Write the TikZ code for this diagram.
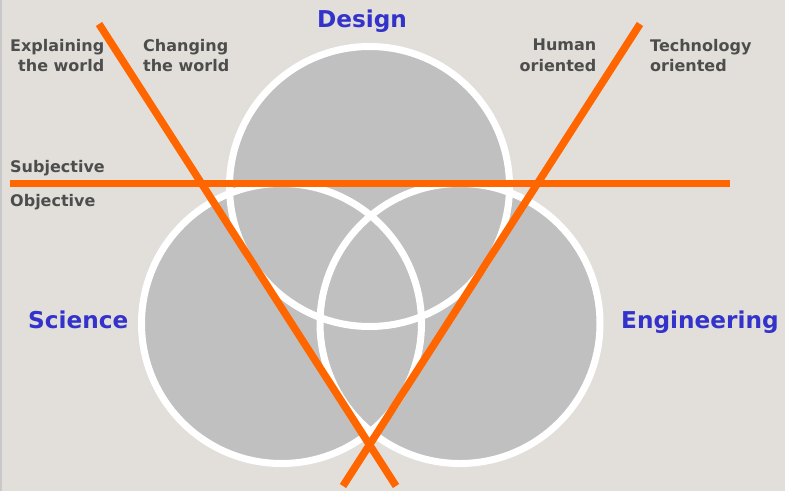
\documentclass[tikz,border=0pt]{standalone}
\usepackage{fontspec}
\setmainfont{DejaVu Sans}
\definecolor{bg}{HTML}{E2DFDA}
\definecolor{edge}{HTML}{C9C9C9}
\definecolor{disc}{HTML}{C0C0C0}
\definecolor{orng}{HTML}{FF6600}
\definecolor{lblgray}{HTML}{4D4D4D}
\definecolor{lblblue}{HTML}{3333CC}
\tikzset{
  disk/.style={fill=disc},
  ring/.style={draw=white, line width=7pt},
  bar/.style={draw=orng, line width=7.5pt},
  lbl/.style={inner sep=0pt, text=lblgray, font=\bfseries\fontsize{16}{20.5}\selectfont},
  head/.style={inner sep=0pt, text=lblblue, font=\bfseries\fontsize{23.2}{27}\selectfont},
}
\begin{document}
\begin{tikzpicture}[x=1pt, y=-1pt]
\fill[bg] (0,0) rectangle (785,491);
\fill[edge] (0,0) rectangle (2,491);
\useasboundingbox (0,0) rectangle (785,491);
% centres
\coordinate (cd) at (369.5,186.5);
\coordinate (cs) at (281.5,323.5);
\coordinate (ce) at (460,323.5);
% fills
\fill[disk] (cd) circle[radius=140];
\fill[disk] (cs) circle[radius=140];
\fill[disk] (ce) circle[radius=140];
% outlines
\draw[ring] (cd) circle[radius=140];
\draw[ring] (cs) circle[radius=140];
\draw[ring] (ce) circle[radius=140];
% orange lines
\coordinate (h1) at (10,183.5);
\coordinate (h2) at (730,183.5);
\coordinate (a1) at (99,24);
\coordinate (a2) at (396,486);
\coordinate (b1) at (640,24);
\coordinate (b2) at (343,486);
\draw[bar] (h1) -- (h2);
\draw[bar] (a1) -- (a2);
\draw[bar] (b1) -- (b2);
% labels
\node[head, anchor=base] (design) at (362,27.5) {Design};
\node[head, anchor=base west] (science) at (28,328) {Science};
\node[head, anchor=base west] (engineering) at (621,328) {Engineering};
\node[lbl, align=right, anchor=north east] (explaining) at (104.5,39) {Explaining\\the world};
\node[lbl, align=left, anchor=north west] (changing) at (143,39) {Changing\\the world};
\node[lbl, align=right, anchor=north east] (human) at (596.5,39) {Human\\oriented};
\node[lbl, align=left, anchor=north west] (technology) at (650,39) {Technology\\oriented};
\node[lbl, anchor=base west] (subjective) at (10,172) {Subjective};
\node[lbl, anchor=base west] (objective) at (10,206) {Objective};
\end{tikzpicture}
\end{document}
